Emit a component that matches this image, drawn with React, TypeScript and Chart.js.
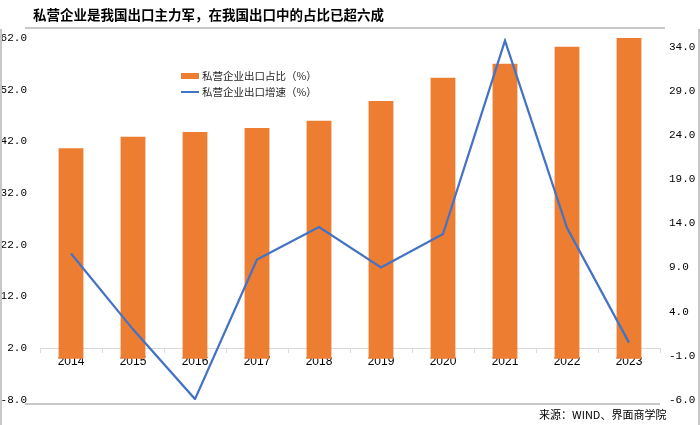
import { useEffect, useRef } from "react";
import { Chart, registerables } from "chart.js";

Chart.register(...registerables);

const TITLE = "私营企业是我国出口主力军，在我国出口中的占比已超六成";
const SOURCE = "来源：WIND、界面商学院";
const YEARS = ["2014", "2015", "2016", "2017", "2018", "2019", "2020", "2021", "2022", "2023"];
const SHARE_LABEL = "私营企业出口占比（%）";
const GROWTH_LABEL = "私营企业出口增速（%）";
const SHARE = [40.7, 42.9, 43.8, 44.6, 46.0, 49.8, 54.3, 57.0, 60.3, 62.0];
const GROWTH = [10.6, 2.0, -5.9, 9.9, 13.6, 9.0, 12.8, 34.7, 13.5, 0.5];
const LEFT_TICKS = [-8, 2, 12, 22, 32, 42, 52, 62];
const RIGHT_TICKS = [-6, -1, 4, 9, 14, 19, 24, 29, 34];

const ORANGE = "#ED7D31";
const BLUE = "#4472C4";
const CJK = '"Noto Sans CJK SC", sans-serif';

const deco = {
  id: "deco",
  beforeDraw(chart: any) {
    const ctx = chart.ctx;
    ctx.save();
    ctx.fillStyle = "#ffffff";
    ctx.fillRect(0, 0, chart.width, chart.height);
    ctx.restore();
  },
  afterDraw(chart: any) {
    const ctx = chart.ctx;
    ctx.save();
    const seg = (x1: number, y1: number, x2: number, y2: number) => {
      ctx.beginPath();
      ctx.moveTo(x1, y1);
      ctx.lineTo(x2, y2);
      ctx.stroke();
    };
    ctx.strokeStyle = "#c8c8c8";
    ctx.lineWidth = 2;
    seg(25, 28, 665, 28);
    seg(25, 404, 660, 404);
    seg(1, 29, 1, 425);
    seg(699, 29, 699, 425);

    ctx.fillStyle = "#000000";
    ctx.textBaseline = "middle";
    ctx.textAlign = "left";
    ctx.font = `bold 13.5px ${CJK}`;
    ctx.fillText(TITLE, 33, 15);

    // legend
    const ds = chart.data.datasets;
    ctx.font = `10.5px ${CJK}`;
    ctx.fillStyle = ds[0].backgroundColor;
    ctx.fillRect(181, 73, 18, 6);
    ctx.fillStyle = "#262626";
    ctx.fillText(ds[0].label, 202, 76);
    ctx.strokeStyle = ds[1].borderColor;
    ctx.lineWidth = 2;
    seg(181, 92, 199, 92);
    ctx.fillStyle = "#262626";
    ctx.fillText(ds[1].label, 202, 92);

    ctx.font = `11px ${CJK}`;
    ctx.fillStyle = "#000000";
    ctx.fillText(SOURCE, 539, 415);
    ctx.restore();
  },
};

export default function App() {
  const ref = useRef<HTMLCanvasElement | null>(null);
  useEffect(() => {
    document.body.style.margin = "0";
    const canvas = ref.current;
    if (!canvas) return;
    const tickFont = { family: '"Liberation Mono", monospace', size: 11 };
    const chart = new Chart(canvas, {
      type: "bar",
      data: {
        labels: YEARS,
        datasets: [
          {
            type: "bar",
            label: SHARE_LABEL,
            data: SHARE,
            backgroundColor: ORANGE,
            borderWidth: 0,
            yAxisID: "y",
            order: 1,
            barPercentage: 0.8,
            categoryPercentage: 0.5,
          },
          {
            type: "line",
            label: GROWTH_LABEL,
            data: GROWTH,
            borderColor: BLUE,
            backgroundColor: BLUE,
            borderWidth: 2.25,
            pointRadius: 0,
            tension: 0,
            yAxisID: "y1",
            order: 0,
          },
        ],
      } as any,
      options: {
        responsive: false,
        animation: false,
        layout: { padding: { top: 38, bottom: 25, left: 0, right: 0 } },
        plugins: {
          legend: { display: false },
          tooltip: { enabled: false },
          title: { display: false },
        },
        scales: {
          x: {
            type: "category",
            position: { y: 2 } as any,
            z: 1,
            offset: true,
            grid: {
              display: true,
              drawOnChartArea: false,
              drawTicks: true,
              tickLength: 4,
              color: "#d9d9d9",
              offset: true,
            },
            border: { display: true, color: "#d9d9d9", width: 1 },
            ticks: {
              font: { family: '"Liberation Sans", Arial, sans-serif', size: 12 },
              color: "#000000",
              padding: 2,
              maxRotation: 0,
              autoSkip: false,
            },
            afterFit: (s: any) => {
              s.height = 0;
            },
          },
          y: {
            type: "linear",
            position: "left",
            min: -8,
            max: 62,
            afterBuildTicks: (s: any) => {
              s.ticks = LEFT_TICKS.map((v) => ({ value: v }));
            },
            grid: { display: false, drawTicks: false },
            border: { display: false },
            ticks: {
              font: tickFont,
              color: "#000000",
              padding: 13,
              callback: (v: any) => Number(v).toFixed(1),
            },
            afterFit: (s: any) => {
              s.width = 40;
            },
          },
          y1: {
            type: "linear",
            position: "right",
            min: -6,
            max: 35,
            afterBuildTicks: (s: any) => {
              s.ticks = RIGHT_TICKS.map((v) => ({ value: v }));
            },
            grid: { display: false, drawTicks: false },
            border: { display: false },
            ticks: {
              font: tickFont,
              color: "#000000",
              padding: 9,
              callback: (v: any) => Number(v).toFixed(1),
            },
            afterFit: (s: any) => {
              s.width = 40;
            },
          },
        },
      } as any,
      plugins: [deco],
    });
    return () => chart.destroy();
  }, []);
  return (
    <div style={{ width: 700, height: 425 }}>
      <canvas ref={ref} width={700} height={425} />
    </div>
  );
}
